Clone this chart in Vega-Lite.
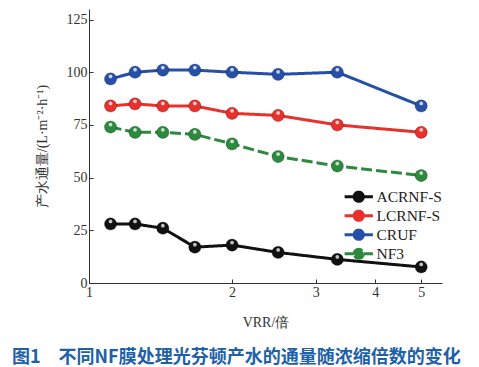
{
  "$schema": "https://vega.github.io/schema/vega-lite/v6.json",
  "width": 353,
  "height": 274,
  "autosize": {"type": "none"},
  "padding": {"left": 89, "top": 9, "right": 37, "bottom": 84},
  "background": "white",
  "config": {
    "view": {"stroke": null},
    "axis": {"labelFont": "Liberation Serif", "labelFontSize": 14, "labelColor": "#333", "titleFont": "Liberation Serif", "titleFontSize": 14, "titleFontWeight": "normal", "titleColor": "#333", "domainColor": "#333", "tickColor": "#333", "grid": false}
  },
  "title": {
    "text": "图1　不同NF膜处理光芬顿产水的通量随浓缩倍数的变化",
    "orient": "bottom",
    "anchor": "start",
    "frame": "group",
    "dx": -77,
    "offset": 20,
    "font": "Noto Sans CJK SC",
    "fontSize": 18,
    "fontWeight": "bold",
    "color": "#2060a8"
  },
  "data": {"values": [
    {"vrr": 1.11, "flux": 28, "m": "ACRNF-S"},
    {"vrr": 1.25, "flux": 28, "m": "ACRNF-S"},
    {"vrr": 1.43, "flux": 26, "m": "ACRNF-S"},
    {"vrr": 1.67, "flux": 17, "m": "ACRNF-S"},
    {"vrr": 2.0, "flux": 18, "m": "ACRNF-S"},
    {"vrr": 2.5, "flux": 14.5, "m": "ACRNF-S"},
    {"vrr": 3.33, "flux": 11.2, "m": "ACRNF-S"},
    {"vrr": 5.0, "flux": 7.6, "m": "ACRNF-S"},
    {"vrr": 1.11, "flux": 84, "m": "LCRNF-S"},
    {"vrr": 1.25, "flux": 85, "m": "LCRNF-S"},
    {"vrr": 1.43, "flux": 84, "m": "LCRNF-S"},
    {"vrr": 1.67, "flux": 84, "m": "LCRNF-S"},
    {"vrr": 2.0, "flux": 80.5, "m": "LCRNF-S"},
    {"vrr": 2.5, "flux": 79.5, "m": "LCRNF-S"},
    {"vrr": 3.33, "flux": 75, "m": "LCRNF-S"},
    {"vrr": 5.0, "flux": 71.5, "m": "LCRNF-S"},
    {"vrr": 1.11, "flux": 96.8, "m": "CRUF"},
    {"vrr": 1.25, "flux": 100, "m": "CRUF"},
    {"vrr": 1.43, "flux": 101, "m": "CRUF"},
    {"vrr": 1.67, "flux": 101, "m": "CRUF"},
    {"vrr": 2.0, "flux": 100, "m": "CRUF"},
    {"vrr": 2.5, "flux": 99, "m": "CRUF"},
    {"vrr": 3.33, "flux": 100, "m": "CRUF"},
    {"vrr": 5.0, "flux": 84, "m": "CRUF"},
    {"vrr": 1.11, "flux": 74, "m": "NF3"},
    {"vrr": 1.25, "flux": 71.5, "m": "NF3"},
    {"vrr": 1.43, "flux": 71.5, "m": "NF3"},
    {"vrr": 1.67, "flux": 70.5, "m": "NF3"},
    {"vrr": 2.0, "flux": 66, "m": "NF3"},
    {"vrr": 2.5, "flux": 60, "m": "NF3"},
    {"vrr": 3.33, "flux": 55.5, "m": "NF3"},
    {"vrr": 5.0, "flux": 51, "m": "NF3"}
  ]},
  "encoding": {
    "x": {"field": "vrr", "type": "quantitative", "title": "VRR/倍",
      "scale": {"type": "log", "domain": [1, 5.53], "nice": false},
      "axis": {"values": [1, 2, 3, 4, 5], "format": "d", "tickSize": -4, "labelPadding": 6, "titlePadding": 16, "labelFlush": false}},
    "y": {"field": "flux", "type": "quantitative", "title": "产水通量/(L·m⁻²·h⁻¹)",
      "scale": {"domain": [0, 130], "nice": false},
      "axis": {"values": [0, 25, 50, 75, 100, 125], "tickSize": -4, "labelPadding": 6, "titlePadding": 17}}
  },
  "layer": [
    {
      "mark": {"type": "line", "strokeWidth": 3},
      "encoding": {
        "color": {"field": "m", "type": "nominal", "sort": ["ACRNF-S", "LCRNF-S", "CRUF", "NF3"],
          "scale": {"domain": ["ACRNF-S", "LCRNF-S", "CRUF", "NF3"], "range": ["#111111", "#e8302c", "#2650a8", "#2b8a3e"]},
          "legend": {
            "title": null, "orient": "none", "legendX": 262, "legendY": 180,
            "labelFont": "Liberation Serif", "labelFontSize": 15.5, "labelColor": "#222",
            "rowPadding": -10, "labelOffset": 10,
            "symbolType": "M-4,0L-1.3,0M1.3,0L4,0M-1.3,0A1.3,1.3 0 1,1 1.3,0A1.3,1.3 0 1,1 -1.3,0Z",
            "symbolSize": 50, "symbolStrokeWidth": 3,
            "encode": {"symbols": {"update": {"fill": {"scale": "color", "field": "value"}, "stroke": {"scale": "color", "field": "value"}, "strokeDash": [{"test": "datum.value === 'NF3'", "value": [6, 2.5, 17, 2.5, 6, 0]}, {"value": [1, 0]}]}}}
          }},
        "strokeDash": {"field": "m", "type": "nominal",
          "scale": {"domain": ["ACRNF-S", "LCRNF-S", "CRUF", "NF3"], "range": [[1, 0], [1, 0], [1, 0], [11, 4]]}, "legend": null}
      }
    },
    {
      "mark": {"type": "point", "filled": true, "size": 150, "opacity": 1, "stroke": "#000", "strokeOpacity": 0.3, "strokeWidth": 0.8},
      "encoding": {"color": {"field": "m", "type": "nominal", "legend": null}}
    },
    {
      "mark": {"type": "point", "filled": true, "size": 14, "color": "white", "opacity": 0.75, "yOffset": -2.5},
      "encoding": {}
    }
  ]
}
